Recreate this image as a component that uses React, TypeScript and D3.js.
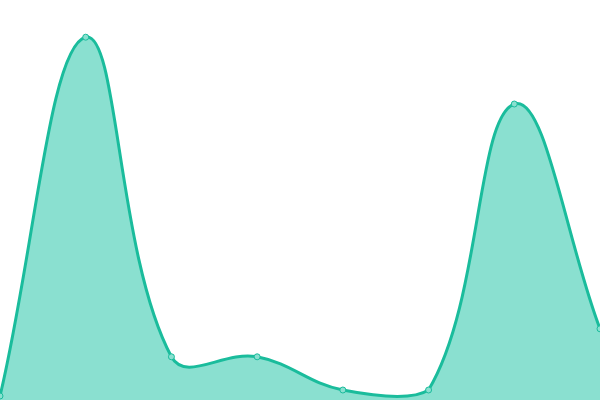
import React from "react";
import * as d3 from "d3";

const categories = ["A", "B", "C", "D", "E", "F", "G", "H"];
const values = [1, 90.7, 10.8, 10.8, 2.5, 2.5, 74, 17.8];
const yDomain = [0, 100];
const tension = 0.4;

const W = 600;
const H = 400;

type P = { x: number; y: number };

function splinePath(pts: P[], close: boolean): string {
  const n = pts.length;
  const cps = pts.map((cur, i) => {
    const prev = pts[Math.max(0, i - 1)];
    const next = pts[Math.min(n - 1, i + 1)];
    const d01 = Math.hypot(cur.x - prev.x, cur.y - prev.y);
    const d12 = Math.hypot(next.x - cur.x, next.y - cur.y);
    let s01 = d01 / (d01 + d12);
    let s12 = d12 / (d01 + d12);
    if (isNaN(s01)) s01 = 0;
    if (isNaN(s12)) s12 = 0;
    const fa = tension * s01;
    const fb = tension * s12;
    const clampX = (v: number) => Math.max(0, Math.min(W, v));
    const clampY = (v: number) => Math.max(0, Math.min(H, v));
    return {
      px: clampX(cur.x - fa * (next.x - prev.x)),
      py: clampY(cur.y - fa * (next.y - prev.y)),
      nx: clampX(cur.x + fb * (next.x - prev.x)),
      ny: clampY(cur.y + fb * (next.y - prev.y)),
    };
  });
  const p = d3.path();
  p.moveTo(pts[0].x, pts[0].y);
  for (let i = 1; i < n; i++) {
    p.bezierCurveTo(cps[i - 1].nx, cps[i - 1].ny, cps[i].px, cps[i].py, pts[i].x, pts[i].y);
  }
  if (close) {
    p.lineTo(pts[n - 1].x, H);
    p.lineTo(pts[0].x, H);
    p.closePath();
  }
  return p.toString();
}

export default function App() {
  const x = d3.scalePoint<string>().domain(categories).range([0, W]);
  const y = d3.scaleLinear().domain(yDomain).range([H, 0]);
  const pts: P[] = categories.map((c, i) => ({ x: x(c) as number, y: y(values[i]) }));

  return (
    <svg
      width={W}
      height={H}
      style={{ position: "fixed", left: 0, top: 0, display: "block" }}
    >
      <rect width={W} height={H} fill="#ffffff" />
      <path d={splinePath(pts, true)} fill="#8ae0d0" />
      <path d={splinePath(pts, false)} fill="none" stroke="#1abc9c" strokeWidth={3} />
      {pts.map((d, i) => (
        <circle
          key={categories[i]}
          cx={d.x}
          cy={d.y}
          r={3}
          fill="#8ae0d0"
          stroke="#1abc9c"
          strokeWidth={1}
        />
      ))}
    </svg>
  );
}
